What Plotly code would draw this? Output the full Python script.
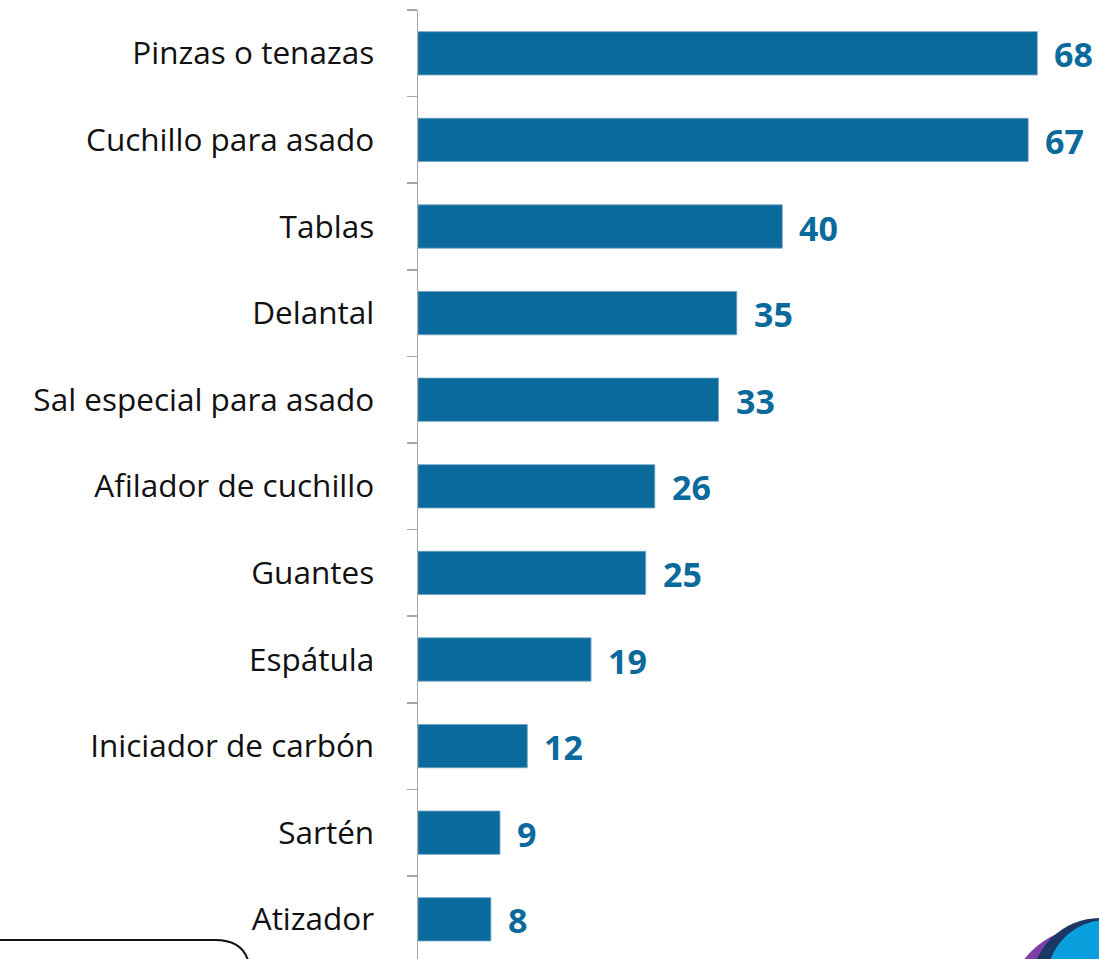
import plotly.graph_objects as go

categories = ["Pinzas o tenazas", "Cuchillo para asado", "Tablas", "Delantal",
              "Sal especial para asado", "Afilador de cuchillo", "Guantes",
              "Espátula", "Iniciador de carbón", "Sartén", "Atizador"]
values = [68, 67, 40, 35, 33, 26, 25, 19, 12, 9, 8]

BAR = "#0B6A9C"
W, H = 1099, 959
ML, MT = 418, 10
PW, PH = W - ML, H - MT

def px(x):
    return (x - ML) / PW

def py(y):
    return (H - y) / PH

fig = go.Figure()
fig.add_trace(go.Bar(
    x=values, y=categories, orientation="h",
    marker=dict(color=BAR, line=dict(color="#6F9FC0", width=0.8)),
    width=0.5, hoverinfo="skip", cliponaxis=False,
))

for v, c in zip(values, categories):
    fig.add_annotation(x=v, y=c, text=str(v), showarrow=False, xanchor="left",
                       xshift=15, yshift=-1,
                       font=dict(family="Open Sans", size=34, color=BAR, weight="bold"))

shapes = []
path = (f"M {px(-20)},{py(940)} L {px(215)},{py(940)} "
        f"Q {px(250)},{py(940)} {px(250)},{py(975)} L {px(250)},{py(1010)}")
shapes.append(dict(type="path", xref="paper", yref="paper", path=path,
                   line=dict(color="#111111", width=2)))
for (cx, cy, r, col) in [(1090, 1010, 83, "#7B3FA6"), (1100, 987, 69, "#1B3764"),
                         (1107, 980, 60, "#0AA0DE")]:
    shapes.append(dict(type="circle", xref="paper", yref="paper",
                       x0=px(cx - r), x1=px(cx + r), y0=py(cy + r), y1=py(cy - r),
                       fillcolor=col, line=dict(width=0), layer="above"))

fig.update_layout(
    width=W, height=H,
    margin=dict(l=ML, r=0, t=MT, b=0),
    paper_bgcolor="white", plot_bgcolor="white",
    showlegend=False,
    bargap=0.5,
    shapes=shapes,
    xaxis=dict(range=[0, PW / 9.107], visible=False, fixedrange=True),
    yaxis=dict(
        type="category", categoryorder="array", categoryarray=categories,
        range=[-0.5 + PH / 86.6, -0.5],
        showline=True, linecolor="#A6A6A6", linewidth=1.5,
        ticks="outside", tickson="boundaries", ticklen=10, tickcolor="#A6A6A6", tickwidth=1.5,
        ticklabelstandoff=36,
        tickfont=dict(family="Open Sans", size=31.5, color="#111111"),
        showgrid=False, zeroline=False, fixedrange=True,
    ),
)

fig.write_html("out.html", config={"displayModeBar": False, "staticPlot": True},
               post_script="document.body.style.margin='0';document.body.style.overflow='hidden';")
